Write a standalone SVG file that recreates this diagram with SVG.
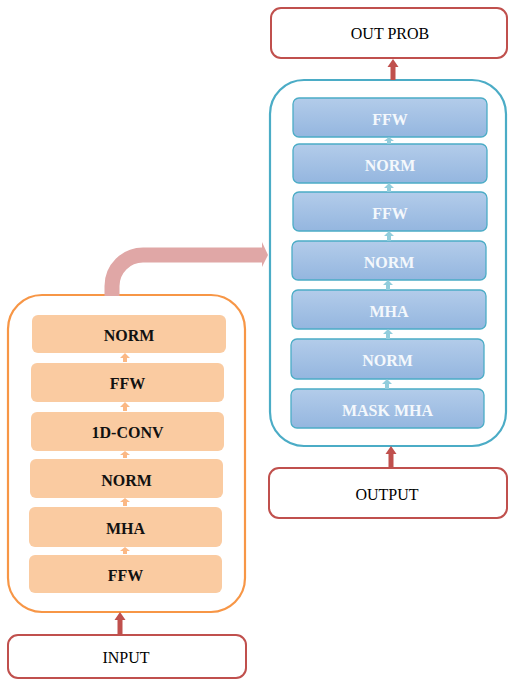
<svg xmlns="http://www.w3.org/2000/svg" width="508" height="679" viewBox="0 0 508 679">
  <defs>
    <linearGradient id="blueFill" x1="0" y1="0" x2="0" y2="1">
      <stop offset="0" stop-color="#B3CCEA"/>
      <stop offset="1" stop-color="#94B6DF"/>
    </linearGradient>
    <style>
      .io { fill: #FFFFFF; stroke: #C0504D; stroke-width: 2; }
      .io-text { font-family: "Liberation Serif", "Times New Roman", serif; font-size: 16px; fill: #000000; text-anchor: middle; dominant-baseline: central; }
      .enc-frame { fill: #FFFFFF; stroke: #F79646; stroke-width: 2.2; }
      .dec-frame { fill: #FFFFFF; stroke: #4BACC6; stroke-width: 2.2; }
      .enc-block { fill: #FACBA1; stroke: none; }
      .dec-block { fill: url(#blueFill); stroke: #4BACC6; stroke-width: 1.3; }
      .enc-text { font-family: "Liberation Serif", "Times New Roman", serif; font-size: 16px; font-weight: bold; fill: #111111; text-anchor: middle; dominant-baseline: central; }
      .dec-text { font-family: "Liberation Serif", "Times New Roman", serif; font-size: 16px; font-weight: bold; fill: #F4F8FC; text-anchor: middle; dominant-baseline: central; }
      .red-arrow { fill: #C0504D; }
      .enc-arrow { fill: #FBB884; }
      .dec-arrow { fill: #92CDDC; }
    </style>
  </defs>

  <!-- encoder stack -->
  <g id="encoder">
    <rect class="enc-frame" x="8" y="295" width="237" height="317" rx="34"/>
  </g>
  <g id="enc-norm-2"><rect class="enc-block" x="32" y="315" width="194" height="38" rx="6"/><text class="enc-text" x="129" y="335">NORM</text></g>
  <g id="enc-ffw-2"><rect class="enc-block" x="31" y="363" width="193" height="39" rx="6"/><text class="enc-text" x="127.5" y="383">FFW</text></g>
  <g id="enc-conv"><rect class="enc-block" x="31" y="412" width="193" height="39" rx="6"/><text class="enc-text" x="127.5" y="432">1D-CONV</text></g>
  <g id="enc-norm-1"><rect class="enc-block" x="30" y="459" width="193" height="39" rx="6"/><text class="enc-text" x="126.5" y="480">NORM</text></g>
  <g id="enc-mha"><rect class="enc-block" x="29" y="507" width="193" height="40" rx="6"/><text class="enc-text" x="125.5" y="528">MHA</text></g>
  <g id="enc-ffw-1"><rect class="enc-block" x="29" y="555" width="193" height="38" rx="6"/><text class="enc-text" x="125.5" y="575">FFW</text></g>

  <!-- decoder stack -->
  <g id="decoder">
    <rect class="dec-frame" x="270" y="80" width="236" height="366" rx="34"/>
  </g>
  <g id="dec-ffw-2"><rect class="dec-block" x="293" y="98" width="194" height="39" rx="6"/><text class="dec-text" x="390" y="119">FFW</text></g>
  <g id="dec-norm-3"><rect class="dec-block" x="293" y="144" width="194" height="39" rx="6"/><text class="dec-text" x="390" y="165">NORM</text></g>
  <g id="dec-ffw-1"><rect class="dec-block" x="293" y="192" width="194" height="39" rx="6"/><text class="dec-text" x="390" y="213">FFW</text></g>
  <g id="dec-norm-2"><rect class="dec-block" x="292" y="241" width="194" height="39" rx="6"/><text class="dec-text" x="389" y="262">NORM</text></g>
  <g id="dec-mha"><rect class="dec-block" x="292" y="290" width="194" height="39" rx="6"/><text class="dec-text" x="389" y="311">MHA</text></g>
  <g id="dec-norm-1"><rect class="dec-block" x="291" y="339" width="193" height="40" rx="6"/><text class="dec-text" x="387.5" y="360">NORM</text></g>
  <g id="dec-mask-mha"><rect class="dec-block" x="291" y="389" width="193" height="39" rx="6"/><text class="dec-text" x="387.5" y="410">MASK MHA</text></g>

  <!-- input / output boxes -->
  <g id="input"><rect class="io" x="8" y="635" width="238" height="43" rx="10"/><text class="io-text" x="126" y="657">INPUT</text></g>
  <g id="output"><rect class="io" x="269" y="468" width="238" height="50" rx="10"/><text class="io-text" x="387" y="494">OUTPUT</text></g>
  <g id="out-prob"><rect class="io" x="271" y="8" width="236" height="50" rx="10"/><text class="io-text" x="390" y="33">OUT PROB</text></g>

  <g id="connectors">
    <!-- encoder to decoder -->
    <path d="M112,296 V286 A31,31 0 0 1 143,255 H263" fill="none" stroke="#E0A7A6" stroke-width="15"/>
    <polygon points="262,242 268,255 262,267" fill="#E0A7A6"/>

    <!-- thick red arrows -->
    <polygon class="red-arrow" points="117.5,634 117.5,620 114.5,620 120,612 125.5,620 122.5,620 122.5,634"/>
    <polygon class="red-arrow" points="388.5,467 388.5,454 385.5,454 391,446 396.5,454 393.5,454 393.5,467"/>
    <polygon class="red-arrow" points="390.5,80 390.5,67 387.5,67 393,59 398.5,67 395.5,67 395.5,80"/>

    <!-- encoder internal arrows -->
    <polygon class="enc-arrow" points="123,362 123,358 120,358 125,353 130,358 127,358 127,362"/>
    <polygon class="enc-arrow" points="123,411 123,407 120,407 125,402 130,407 127,407 127,411"/>
    <polygon class="enc-arrow" points="123,458 123,455 120,455 125,451 130,455 127,455 127,458"/>
    <polygon class="enc-arrow" points="123,506 123,502 120,502 125,498 130,502 127,502 127,506"/>
    <polygon class="enc-arrow" points="123,554 123,551 120,551 125,547 130,551 127,551 127,554"/>

    <!-- decoder internal arrows -->
    <polygon class="dec-arrow" points="387,144 387,141 384,141 389,137 394,141 391,141 391,144"/>
    <polygon class="dec-arrow" points="387,192 387,188 384,188 389,183 394,188 391,188 391,192"/>
    <polygon class="dec-arrow" points="387,241 387,236 384,236 389,231 394,236 391,236 391,241"/>
    <polygon class="dec-arrow" points="386,290 386,285 383,285 388,280 393,285 390,285 390,290"/>
    <polygon class="dec-arrow" points="386,339 386,334 383,334 388,329 393,334 390,334 390,339"/>
    <polygon class="dec-arrow" points="385,389 385,384 382,384 387,379 392,384 389,384 389,389"/>
  </g>
</svg>
